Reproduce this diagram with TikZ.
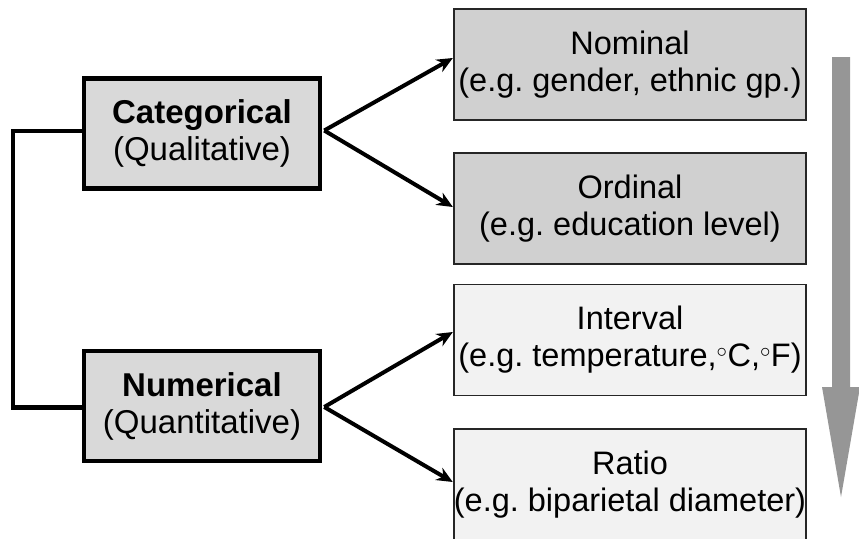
\documentclass[tikz,border=0pt]{standalone}
\usepackage{fontspec}
\setmainfont{Liberation Sans}
\usetikzlibrary{arrows.meta}
\definecolor{catfill}{RGB}{217,217,217}
\definecolor{darkfill}{RGB}{208,208,208}
\definecolor{lightfill}{RGB}{242,242,242}
\definecolor{bigarrow}{RGB}{150,150,150}
\frenchspacing
\begin{document}
\begin{tikzpicture}[x=1pt,y=-1pt,
  mainbox/.style={draw=black,line width=4.5pt,fill=catfill,minimum width=236pt,minimum height=110pt,
    align=center,inner sep=0pt,font=\fontsize{33}{37}\selectfont},
  subbox/.style={draw=black!85,line width=1.3pt,minimum width=352pt,minimum height=111pt,
    align=center,inner sep=0pt,font=\fontsize{32.5}{37}\selectfont},
  conn/.style={line width=4pt,-{Stealth[length=16pt,width=14pt]}},
  link/.style={line width=4.5pt}]
\useasboundingbox (0,0) rectangle (859,538);
\node[mainbox] (cat) at (202,133.5) {\textbf{Categorical}\\(Qualitative)};
\node[mainbox] (num) at (202,406) {\textbf{Numerical}\\(Quantitative)};
\node[subbox,fill=darkfill] (nom) at (630,64.5) {Nominal\\(e.g. gender, ethnic gp.)};
\node[subbox,fill=darkfill] (ord) at (630,208.5) {Ordinal\\(e.g. education level)};
\node[subbox,fill=lightfill] (int) at (630,340) {Interval\\(e.g. temperature,$^\circ$C,$^\circ$F)};
\node[subbox,fill=lightfill] (rat) at (630,484.5) {Ratio\\(e.g. biparietal diameter)};
\draw[link] ([yshift=2.5pt]cat.west) -| (13,407.5) -- ([yshift=-1.5pt]num.west);
\draw[conn] ([xshift=2pt,yshift=3pt]cat.east) -- ([xshift=-0.5pt,yshift=6.5pt]nom.west);
\draw[conn] ([xshift=2pt,yshift=3pt]cat.east) -- ([xshift=-0.5pt,yshift=1.5pt]ord.west);
\draw[conn] ([xshift=2pt,yshift=-1pt]num.east) -- ([xshift=-0.5pt,yshift=8pt]int.west);
\draw[conn] ([xshift=2pt,yshift=-1pt]num.east) -- ([xshift=-0.5pt,yshift=2.5pt]rat.west);
\fill[bigarrow] (832,57) -- (850,57) -- (850,387) -- (860,387) -- (841,497) -- (822,387) -- (832,387) -- cycle;
\end{tikzpicture}
\end{document}
